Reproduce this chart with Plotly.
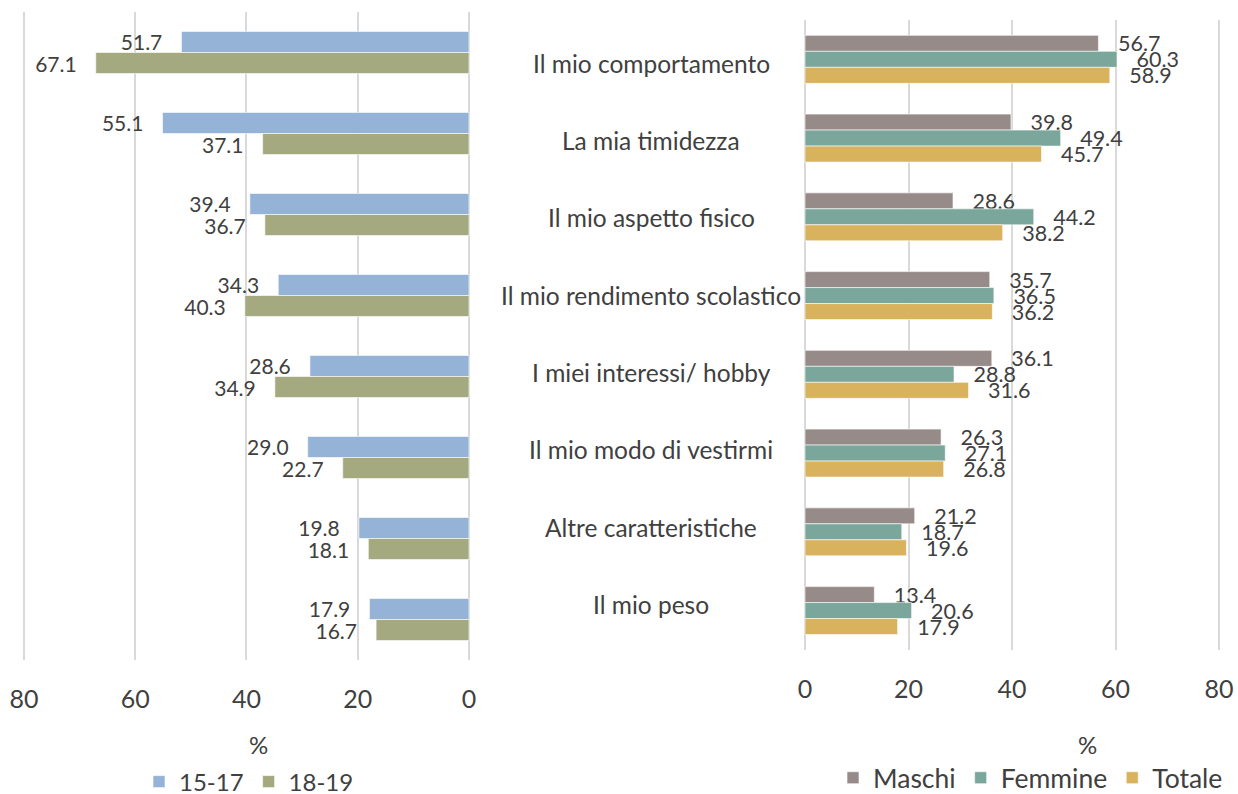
import plotly.graph_objects as go

categories = [
    "Il mio comportamento",
    "La mia timidezza",
    "Il mio aspetto fisico",
    "Il mio rendimento scolastico",
    "I miei interessi/ hobby",
    "Il mio modo di vestirmi",
    "Altre caratteristiche",
    "Il mio peso",
]
age_15_17 = [51.7, 55.1, 39.4, 34.3, 28.6, 29.0, 19.8, 17.9]
age_18_19 = [67.1, 37.1, 36.7, 40.3, 34.9, 22.7, 18.1, 16.7]
maschi = [56.7, 39.8, 28.6, 35.7, 36.1, 26.3, 21.2, 13.4]
femmine = [60.3, 49.4, 44.2, 36.5, 28.8, 27.1, 18.7, 20.6]
totale = [58.9, 45.7, 38.2, 36.2, 31.6, 26.8, 19.6, 17.9]
x_ticks = [0, 20, 40, 60, 80]

FONT = "Lato"
TXT = "#404040"
GRID = "#D9D9D9"
W, H = 1238, 794
NB = "\u00a0"
EPS = 0.2

def px_x(p):
    return p / W

def px_y(p):
    return 1 - p / H

fig = go.Figure()

left_series = [("15-17", age_15_17, "#95B3D7", -0.26), ("18-19", age_18_19, "#A4A97F", 0.0)]
for name, vals, col, off in left_series:
    fig.add_trace(go.Bar(
        y=categories, x=vals, orientation="h", name=name,
        marker=dict(color=col, line=dict(color="rgba(255,255,255,0.6)", width=1)),
        width=0.26, offset=off,
        text=[f"{v:.1f}" + NB * 3 for v in vals], textposition="outside", constraintext="none",
        textfont=dict(family=FONT, size=21, color=TXT), cliponaxis=False,
        xaxis="x", yaxis="y", legend="legend",
    ))

right_series = [("Maschi", maschi, "#978B8A", -0.305), ("Femmine", femmine, "#7AA69B", -0.102), ("Totale", totale, "#D8B25C", 0.101)]
for name, vals, col, off in right_series:
    fig.add_trace(go.Bar(
        y=categories, x=vals, orientation="h", name=name,
        marker=dict(color=col, line=dict(color="rgba(255,255,255,0.6)", width=1)),
        width=0.203, offset=off,
        text=[NB * 3 + f"{v:.1f}" for v in vals], textposition="outside", constraintext="none",
        textfont=dict(family=FONT, size=21.5, color=TXT), cliponaxis=False,
        xaxis="x2", yaxis="y2", legend="legend2",
    ))

# category labels sit between the two panels (slightly tighter spacing than the right bars)
for i, c in enumerate(categories):
    fig.add_annotation(x=651 / W, xref="paper", y=c, yref="y2", text=c, showarrow=False,
                       xanchor="center", yanchor="middle", yshift=-(4 - 1.45 * i),
                       font=dict(family=FONT, size=24.5, color=TXT))

fig.add_annotation(x=258 / W, xref="paper", y=px_y(744), yref="paper", text="%", showarrow=False,
                   xanchor="center", yanchor="middle", font=dict(family=FONT, size=24, color=TXT))
fig.add_annotation(x=1087 / W, xref="paper", y=px_y(744), yref="paper", text="%", showarrow=False,
                   xanchor="center", yanchor="middle", font=dict(family=FONT, size=24, color=TXT))

axis_common = dict(tickvals=x_ticks, showgrid=True, gridcolor=GRID, gridwidth=2, zeroline=False,
                   showline=False, ticks="", tickfont=dict(family=FONT, size=25, color=TXT),
                   fixedrange=True, automargin=False)

lpx = 445 / 80 * EPS
rpx = 414 / 80 * EPS
ycat = dict(categoryorder="array", categoryarray=categories, range=[7.5, -0.5],
            showticklabels=False, showgrid=False, zeroline=False, fixedrange=True)

fig.update_layout(
    width=W, height=H,
    margin=dict(l=0, r=0, t=0, b=0, autoexpand=False),
    paper_bgcolor="white", plot_bgcolor="white",
    barmode="overlay",
    showlegend=True,
    xaxis=dict(domain=[px_x(24 - lpx), px_x(469 + lpx)], range=[80 + EPS, -EPS], anchor="y",
               ticklabelstandoff=22, **axis_common),
    yaxis=dict(domain=[px_y(660), px_y(12)], anchor="x", **ycat),
    xaxis2=dict(domain=[px_x(805 - rpx), px_x(1219 + rpx)], range=[-EPS, 80 + EPS], anchor="y2",
                ticklabelstandoff=22, **axis_common),
    yaxis2=dict(domain=[px_y(650), px_y(20)], anchor="x2", **ycat),
    legend=dict(orientation="h", x=px_x(139), y=px_y(782), xanchor="left", yanchor="middle",
                font=dict(family=FONT, size=24, color=TXT), bgcolor="rgba(0,0,0,0)"),
    legend2=dict(orientation="h", x=px_x(833), y=px_y(778), xanchor="left", yanchor="middle",
                 font=dict(family=FONT, size=26.5, color=TXT), bgcolor="rgba(0,0,0,0)"),
)

fig.write_html("out.html", config={"displayModeBar": False},
               post_script="document.body.style.margin='0px';")
